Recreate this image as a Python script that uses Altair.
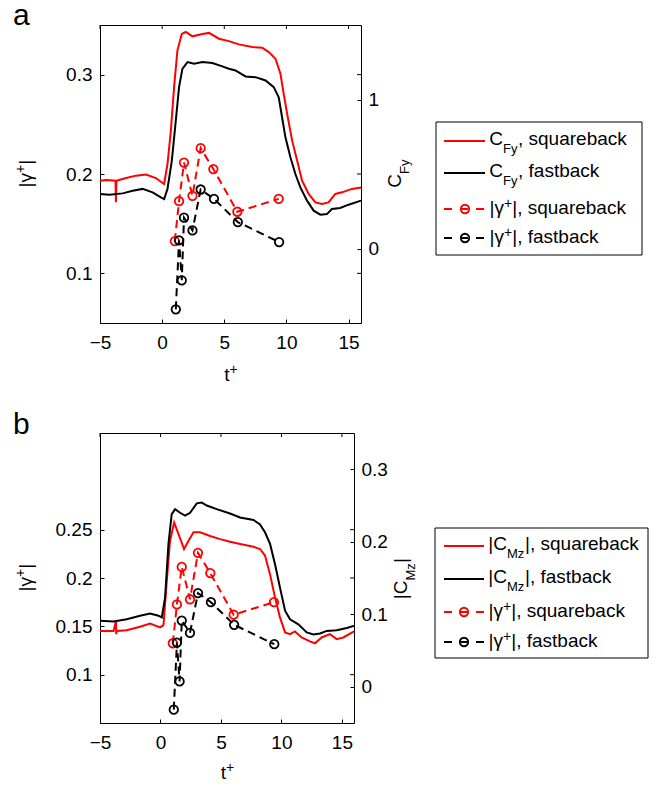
import altair as alt
import pandas as pd

FONT = "Liberation Sans"
RED = "#ff0000"
BLACK = "#000000"

# ---------------- data ----------------
# panel a : C_Fy (right axis)
t_cfy_sq = [-5.0, -4.5, -3.75, -3.72, -3.68, -2.9, -2.1, -1.3, -0.5, 0.16, 0.43, 0.70, 0.96, 1.23,
            1.58, 1.9, 2.44, 3.24, 3.77, 4.57, 5.37, 6.17, 7.25, 8.05, 8.58, 9.12, 9.52, 9.78,
            10.06, 10.46, 10.86, 11.26, 11.79, 12.33, 12.86, 13.39, 13.93, 14.47, 15.27, 16.0]
cfy_sq = [0.454, 0.459, 0.455, 0.31, 0.455, 0.473, 0.489, 0.496, 0.473, 0.433, 0.567, 0.79, 1.083, 1.33,
          1.44, 1.453, 1.424, 1.44, 1.447, 1.408, 1.392, 1.37, 1.352, 1.348, 1.318, 1.274, 1.173, 1.038,
          0.904, 0.724, 0.59, 0.455, 0.366, 0.309, 0.299, 0.309, 0.366, 0.377, 0.4, 0.41]
t_cfy_fb = [-5.0, -4.25, -3.18, -2.37, -1.57, -0.77, -0.1, 0.16, 0.43, 0.78, 1.1, 1.36, 1.63, 2.04,
            2.57, 3.24, 4.04, 4.84, 5.37, 5.9, 6.71, 7.51, 8.32, 8.98, 9.38, 9.65, 9.92, 10.32,
            10.72, 11.12, 11.66, 12.19, 12.73, 13.26, 13.66, 14.33, 15.0, 16.0]
cfy_fb = [0.366, 0.36, 0.37, 0.388, 0.4, 0.377, 0.343, 0.332, 0.4, 0.59, 0.859, 1.083, 1.206, 1.251,
          1.24, 1.251, 1.245, 1.222, 1.206, 1.195, 1.155, 1.15, 1.128, 1.083, 1.015, 0.881, 0.746, 0.612,
          0.5, 0.41, 0.321, 0.254, 0.227, 0.231, 0.265, 0.272, 0.294, 0.321]

# panel b : |C_Mz| (right axis)
t_cmz_sq = [-5.0, -3.88, -3.68, -3.66, -3.62, -2.79, -1.69, -0.86, -0.03, 0.25, 0.52, 0.79, 1.13, 1.49,
            1.95, 2.31, 2.73, 3.27, 4.1, 4.93, 5.75, 6.58, 7.69, 8.23, 8.64, 9.06, 9.47, 9.88,
            10.3, 10.71, 11.12, 11.67, 12.36, 12.77, 13.33, 14.01, 14.57, 15.12, 16.0]
cmz_sq = [0.077, 0.077, 0.091, 0.0726, 0.077, 0.078, 0.0828, 0.0873, 0.0818, 0.085, 0.146, 0.201, 0.2266, 0.2105,
          0.19, 0.201, 0.213, 0.213, 0.208, 0.2036, 0.2, 0.197, 0.193, 0.19, 0.181, 0.155, 0.123, 0.0956,
          0.075, 0.0726, 0.0763, 0.068, 0.0625, 0.06, 0.068, 0.0726, 0.0657, 0.068, 0.0763]
t_cmz_fb = [-5.0, -3.88, -2.79, -1.69, -0.86, -0.17, 0.11, 0.38, 0.66, 0.93, 1.21, 1.62, 2.03, 2.45,
            3.0, 3.41, 3.83, 4.65, 5.75, 6.58, 7.69, 8.23, 8.64, 9.06, 9.47, 9.88, 10.3, 10.71,
            11.4, 12.09, 12.64, 13.19, 13.74, 14.57, 15.4, 16.0]
cmz_fb = [0.091, 0.09, 0.093, 0.098, 0.101, 0.098, 0.0956, 0.123, 0.197, 0.238, 0.245, 0.24, 0.236, 0.24,
          0.253, 0.254, 0.25, 0.245, 0.239, 0.2335, 0.23, 0.224, 0.213, 0.197, 0.169, 0.137, 0.105, 0.093,
          0.086, 0.075, 0.072, 0.0735, 0.077, 0.078, 0.081, 0.084]

# |gamma+| (left axis, same in both panels)
t_gam_sq = [1.02, 1.36, 1.76, 2.44, 3.10, 4.12, 6.05, 9.38]
gam_sq = [0.1325, 0.1726, 0.2115, 0.178, 0.226, 0.205, 0.162, 0.175]
t_gam_fb = [1.10, 1.36, 1.58, 1.76, 2.44, 3.10, 4.17, 6.09, 9.41]
gam_fb = [0.0638, 0.1332, 0.093, 0.156, 0.1432, 0.1844, 0.175, 0.1516, 0.1315]

x_ticks = [-5, 0, 5, 10, 15]
a_gam_ticks = [0.1, 0.2, 0.3]
a_c_ticks = [0, 1]
b_gam_ticks = [0.1, 0.15, 0.2, 0.25]
b_c_ticks = [0, 0.1, 0.2, 0.3]

# text pieces (main / subscript-or-superscript / rest)
a_leg_main = ["C", "C"]
a_leg_sub = ["Fy", "Fy"]
a_leg_rest = [", squareback", ", fastback"]
b_leg_main = ["|C", "|C"]
b_leg_sub = ["Mz", "Mz"]
b_leg_rest = ["|, squareback", "|, fastback"]
gam_leg_main = ["|γ", "|γ"]
gam_leg_sup = ["+", "+"]
gam_leg_rest = ["|, squareback", "|, fastback"]
series_colors = [RED, BLACK]

TL = 4  # tick length (inward)
FS = 19
SUB = 13
SUP = 14
SUPW = 8.2  # advance of a 14px "+"


def txt(s, **kw):
    base = dict(font=FONT, fontSize=FS, color=BLACK, baseline="alphabetic")
    base.update(kw)
    return alt.Chart(pd.DataFrame({"s": [s]})).mark_text(**base).encode(text="s:N")


def make_panel(W, H, t_sq, c_sq, t_fb, c_fb, c_dom, c_ticks, g_ticks,
               rt_parts, rt_x, rt_y, xt_y, leg, label, label_y):
    xs = alt.Scale(domain=[-5, 16], nice=False, zero=False)
    gs = alt.Scale(domain=[0.05, 0.35], nice=False, zero=False)
    cs = alt.Scale(domain=c_dom, nice=False, zero=False)

    x_axis = alt.Axis(values=x_ticks, format="d", title=None, orient="bottom", offset=-TL,
                      tickSize=TL, domain=False, grid=False, labelPadding=10, labelFlush=False)
    X = alt.X("t:Q", scale=xs, axis=x_axis)
    g_axis = alt.Axis(values=g_ticks, format=".2~f", title=None, orient="left", offset=-TL,
                      tickSize=TL, domain=False, grid=False, labelPadding=8)
    c_axis = alt.Axis(values=c_ticks, format=".2~f", title=None, orient="right", offset=-TL,
                      tickSize=TL, domain=False, grid=False, labelPadding=7)

    layers = []
    # right-axis quantity (solid lines)
    layers.append(alt.Chart(pd.DataFrame({"t": t_sq, "c": c_sq})).mark_line(color=RED, strokeWidth=2).encode(
        x=X, y=alt.Y("c:Q", scale=cs, axis=c_axis)))
    layers.append(alt.Chart(pd.DataFrame({"t": t_fb, "c": c_fb})).mark_line(color=BLACK, strokeWidth=2).encode(
        x=X, y=alt.Y("c:Q", scale=cs, axis=None)))

    # gamma (dashed with open circles)
    dsq = pd.DataFrame({"t": t_gam_sq, "g": gam_sq})
    dfb = pd.DataFrame({"t": t_gam_fb, "g": gam_fb})
    layers.append(alt.Chart(dsq).mark_line(color=RED, strokeWidth=2, strokeDash=[8, 5]).encode(
        x=X, y=alt.Y("g:Q", scale=gs, axis=g_axis)))
    layers.append(alt.Chart(dsq).mark_point(shape="circle", filled=False, size=72, strokeWidth=1.8,
                                            color=RED, opacity=1).encode(
        x=X, y=alt.Y("g:Q", scale=gs, axis=None)))
    layers.append(alt.Chart(dfb).mark_line(color=BLACK, strokeWidth=2, strokeDash=[8, 5]).encode(
        x=X, y=alt.Y("g:Q", scale=gs, axis=None)))
    layers.append(alt.Chart(dfb).mark_point(shape="circle", filled=False, size=72, strokeWidth=1.8,
                                            color=BLACK, opacity=1).encode(
        x=X, y=alt.Y("g:Q", scale=gs, axis=None)))
    # mirrored ticks (top edge, right edge)
    layers.append(alt.Chart(pd.DataFrame({"t": x_ticks})).mark_rule(color=BLACK, strokeWidth=1).encode(
        x=X, y=alt.value(0), y2=alt.value(TL)))
    layers.append(alt.Chart(pd.DataFrame({"g": g_ticks})).mark_rule(color=BLACK, strokeWidth=1).encode(
        y=alt.Y("g:Q", scale=gs, axis=None), x=alt.value(W - TL), x2=alt.value(W)))

    # x title  t^+
    layers.append(txt("t", align="right").encode(x=alt.value(W / 2 - 1), y=alt.value(H + xt_y)))
    layers.append(txt("+", align="left", fontSize=SUP, dy=-7).encode(
        x=alt.value(W / 2 - 1), y=alt.value(H + xt_y)))

    # left title |gamma^+| (rotated)
    gy = H / 2 - 1
    layers.append(txt("|γ", angle=270, align="right").encode(x=alt.value(-68), y=alt.value(gy)))
    layers.append(txt("+", angle=270, align="left", fontSize=SUP, dy=-7).encode(
        x=alt.value(-68), y=alt.value(gy)))
    layers.append(txt("|", angle=270, align="left", dx=SUPW).encode(x=alt.value(-68), y=alt.value(gy)))

    # right axis title with subscript (rotated)
    main, sub, rest, sub_w = rt_parts
    layers.append(txt(main, angle=270, align="right").encode(x=alt.value(W + rt_x), y=alt.value(rt_y)))
    layers.append(txt(sub, angle=270, align="left", fontSize=SUB, dy=8).encode(
        x=alt.value(W + rt_x), y=alt.value(rt_y)))
    if rest:
        layers.append(txt(rest, angle=270, align="left", dx=sub_w).encode(
            x=alt.value(W + rt_x), y=alt.value(rt_y)))

    # panel label
    layers.append(txt(label, align="left", fontSize=30).encode(x=alt.value(-87), y=alt.value(label_y)))

    # custom legend
    (bx1, bx2, by1, by2, ly, lx1, lx2, cx, main_x, sub_w2, mains, subs, rests, gam_x) = leg
    layers.append(alt.Chart(pd.DataFrame({"a": [0]})).mark_rect(fill="white", stroke=BLACK, strokeWidth=1).encode(
        x=alt.value(bx1), x2=alt.value(bx2), y=alt.value(by1), y2=alt.value(by2)))
    dsol = pd.DataFrame({"ly": ly[:2], "col": series_colors, "main": mains, "sub": subs, "rest": rests})
    ddash = pd.DataFrame({"ly": ly[2:], "col": series_colors, "main": gam_leg_main,
                          "sup": gam_leg_sup, "rest": gam_leg_rest})
    Y = alt.Y("ly:Q", scale=None, axis=None)
    C = alt.Color("col:N", scale=None, legend=None)
    layers.append(alt.Chart(dsol).mark_rule(strokeWidth=2).encode(
        x=alt.value(lx1), x2=alt.value(lx2), y=Y, color=C))
    layers.append(alt.Chart(ddash).mark_rule(strokeWidth=2, strokeDash=[8, 8]).encode(
        x=alt.value(lx1), x2=alt.value(lx2), y=Y, color=C))
    layers.append(alt.Chart(ddash).mark_point(shape="circle", filled=False, size=72, strokeWidth=1.8,
                                              opacity=1).encode(x=alt.value(cx), y=Y, color=C))
    tkw = dict(font=FONT, color=BLACK, baseline="alphabetic")
    layers.append(alt.Chart(dsol).mark_text(align="right", fontSize=FS, dy=4, **tkw).encode(
        x=alt.value(main_x), y=Y, text="main:N"))
    layers.append(alt.Chart(dsol).mark_text(align="left", fontSize=SUB, dy=12, **tkw).encode(
        x=alt.value(main_x), y=Y, text="sub:N"))
    layers.append(alt.Chart(dsol).mark_text(align="left", fontSize=FS, dy=4, **tkw).encode(
        x=alt.value(main_x + sub_w2), y=Y, text="rest:N"))
    layers.append(alt.Chart(ddash).mark_text(align="right", fontSize=FS, dy=5, **tkw).encode(
        x=alt.value(gam_x), y=Y, text="main:N"))
    layers.append(alt.Chart(ddash).mark_text(align="left", fontSize=SUP, dy=-1, **tkw).encode(
        x=alt.value(gam_x), y=Y, text="sup:N"))
    layers.append(alt.Chart(ddash).mark_text(align="left", fontSize=FS, dy=5, **tkw).encode(
        x=alt.value(gam_x + SUPW), y=Y, text="rest:N"))

    return alt.layer(*layers).resolve_scale(y="independent").properties(width=W, height=H)


panel_a = make_panel(
    261, 298, t_cfy_sq, cfy_sq, t_cfy_fb, cfy_fb, [-0.5, 1.5], a_c_ticks, a_gam_ticks,
    ("C", "Fy", "", 0), 39.5, 149, 58,
    (336, 542, 97, 230, [116, 148, 184, 213], 344, 385, 365, 403, 15,
     a_leg_main, a_leg_sub, a_leg_rest, 404),
    "a", 0)

panel_b = make_panel(
    254, 290, t_cmz_sq, cmz_sq, t_cmz_fb, cmz_fb, [-0.05, 0.35], b_c_ticks, b_gam_ticks,
    ("|C", "Mz", "|", 17.5), 52.5, 147.6, 56,
    (335, 548, 95, 225, [113, 146, 179, 209], 344, 384, 364, 407, 18,
     b_leg_main, b_leg_sub, b_leg_rest, 403),
    "b", 0.7)

chart = alt.vconcat(panel_a, panel_b, spacing=23).properties(
    padding={"left": 12, "top": 0, "right": 5, "bottom": 5}
).configure_view(stroke=BLACK, strokeWidth=1).configure_axis(
    labelFont=FONT, labelFontSize=FS, labelColor=BLACK, tickColor=BLACK, tickWidth=1,
    titleFont=FONT, titleFontSize=FS, titleFontWeight="normal", titleColor=BLACK
)

chart.save("out.html", embed_options={"renderer": "svg", "actions": False})
